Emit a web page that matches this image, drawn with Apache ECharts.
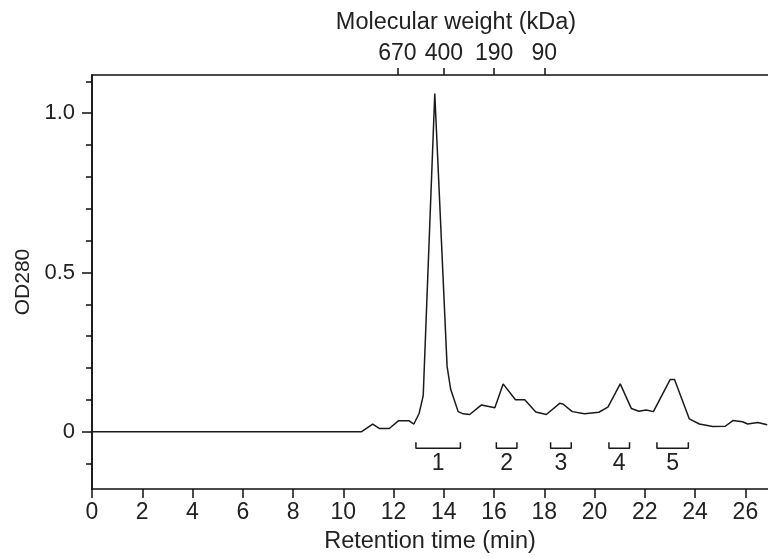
<!DOCTYPE html>
<html>
<head>
<meta charset="utf-8">
<script src="https://cdn.jsdelivr.net/npm/echarts@6/dist/echarts.min.js"></script>
<style>html,body{margin:0;padding:0;background:#fff}#c{width:768px;height:559px}</style>
</head>
<body>
<div id="c"></div>
<script>
// Retention time (min) and OD280
var times = [0, 10.73, 11.17, 11.43, 11.83, 12.19, 12.62, 12.81, 13.02, 13.18, 13.64, 14.13, 14.27, 14.57, 14.77, 15.03, 15.5, 16.03, 16.36, 16.85, 17.22, 17.66, 18.08, 18.61, 18.74, 19.11, 19.6, 20.17, 20.53, 21.02, 21.46, 21.76, 22.05, 22.34, 23.01, 23.18, 23.77, 24.17, 24.7, 25.2, 25.5, 25.89, 26.09, 26.49, 26.87];
var od280 = [0, 0, 0.024, 0.01, 0.01, 0.034, 0.034, 0.024, 0.058, 0.113, 1.062, 0.205, 0.134, 0.063, 0.056, 0.054, 0.084, 0.075, 0.15, 0.1, 0.1, 0.062, 0.054, 0.089, 0.087, 0.063, 0.056, 0.061, 0.077, 0.15, 0.073, 0.064, 0.068, 0.063, 0.164, 0.164, 0.04, 0.024, 0.016, 0.017, 0.035, 0.031, 0.024, 0.029, 0.022];

// Molecular weight markers (top axis)
var mwPositions = [12.15, 14.0, 16.0, 18.0];
var mwLabels = ['670', '400', '190', '90'];

// Collected fractions
var fracLabels = ['1', '2', '3', '4', '5'];
var fracStart = [12.89, 16.09, 18.25, 20.57, 22.48];
var fracEnd = [14.66, 16.91, 19.07, 21.39, 23.73];

// Axis ticks
var xTicks = [0, 2, 4, 6, 8, 10, 12, 14, 16, 18, 20, 22, 24, 26];
var yMajor = [0, 0.5, 1.0];
var yMinor = [-0.1, 0.1, 0.2, 0.3, 0.4, 0.6, 0.7, 0.8, 0.9, 1.1];

var FONT = 'Liberation Sans';
var TXT = '#222';
var BAR_Y = -0.052, END_Y = -0.033, LAB_Y = -0.1;

var series = [{
  type: 'line',
  data: times.map(function (t, i) { return [t, od280[i]]; }),
  symbol: 'none',
  lineStyle: { color: '#1a1a1a', width: 1.5 },
  xAxisIndex: 0, yAxisIndex: 0,
  z: 5
}];
fracLabels.forEach(function (lab, i) {
  series.push({
    type: 'line',
    data: [[fracStart[i], END_Y], [fracStart[i], BAR_Y], [fracEnd[i], BAR_Y], [fracEnd[i], END_Y]],
    symbol: 'none',
    lineStyle: { color: '#1a1a1a', width: 1.5 },
    xAxisIndex: 0, yAxisIndex: 0
  });
});
series.push({
  type: 'scatter',
  symbolSize: 0,
  itemStyle: { opacity: 1 },
  data: fracLabels.map(function (lab, i) { return [(fracStart[i] + fracEnd[i]) / 2, LAB_Y, lab]; }),
  label: {
    show: true, position: 'inside',
    formatter: function (p) { return p.data[2]; },
    fontFamily: FONT, fontSize: 23, color: TXT, opacity: 1
  },
  xAxisIndex: 0, yAxisIndex: 0
});

function axisLine() { return { show: true, onZero: false, lineStyle: { color: '#111', width: 1.5 } }; }

var option = {
  animation: false,
  backgroundColor: '#fff',
  grid: { left: 92, right: 0, top: 75, bottom: 70, containLabel: false },
  xAxis: [{
    type: 'value', position: 'bottom', min: 0, max: 26.9,
    axisLine: axisLine(),
    axisTick: { show: true, inside: false, length: 9, customValues: xTicks, lineStyle: { color: '#111', width: 1.5 } },
    axisLabel: { customValues: xTicks, margin: 12, fontFamily: FONT, fontSize: 23, color: TXT },
    splitLine: { show: false },
    name: 'Retention time (min)', nameLocation: 'middle', nameGap: 41,
    nameTextStyle: { fontFamily: FONT, fontSize: 23.5, color: TXT }
  }, {
    type: 'value', position: 'top', min: 0, max: 26.9,
    axisLine: axisLine(),
    axisTick: { show: true, inside: false, length: 7, customValues: mwPositions, lineStyle: { color: '#111', width: 1.5 } },
    axisLabel: {
      customValues: mwPositions, margin: 10, fontFamily: FONT, fontSize: 23, color: TXT,
      formatter: function (v) {
        var best = 0;
        for (var i = 1; i < mwPositions.length; i++) {
          if (Math.abs(mwPositions[i] - v) < Math.abs(mwPositions[best] - v)) best = i;
        }
        return mwLabels[best];
      }
    },
    splitLine: { show: false },
    name: 'Molecular weight (kDa)', nameLocation: 'middle', nameGap: 40,
    nameTextStyle: { fontFamily: FONT, fontSize: 23.5, color: TXT, padding: [0, 0, 0, 52] }
  }],
  yAxis: [{
    type: 'value', position: 'left', min: -0.18, max: 1.12,
    axisLine: axisLine(),
    axisTick: { show: true, inside: false, length: 10, customValues: yMajor, lineStyle: { color: '#111', width: 1.5 } },
    axisLabel: {
      customValues: yMajor, margin: 17, fontFamily: FONT, fontSize: 22, color: TXT,
      formatter: function (v) { return Math.abs(v) < 1e-9 ? '0' : v.toFixed(1); }
    },
    splitLine: { show: false },
    name: 'OD280', nameLocation: 'middle', nameGap: 53,
    nameTextStyle: { fontFamily: FONT, fontSize: 21, color: TXT }
  }, {
    type: 'value', position: 'left', min: -0.18, max: 1.12,
    axisLine: axisLine(),
    axisTick: { show: true, inside: false, length: 6, customValues: yMinor, lineStyle: { color: '#111', width: 1.5 } },
    axisLabel: { show: false },
    splitLine: { show: false }
  }],
  series: series
};

var chart = echarts.init(document.getElementById('c'), null, { renderer: 'canvas' });
chart.setOption(option);
</script>
</body>
</html>
